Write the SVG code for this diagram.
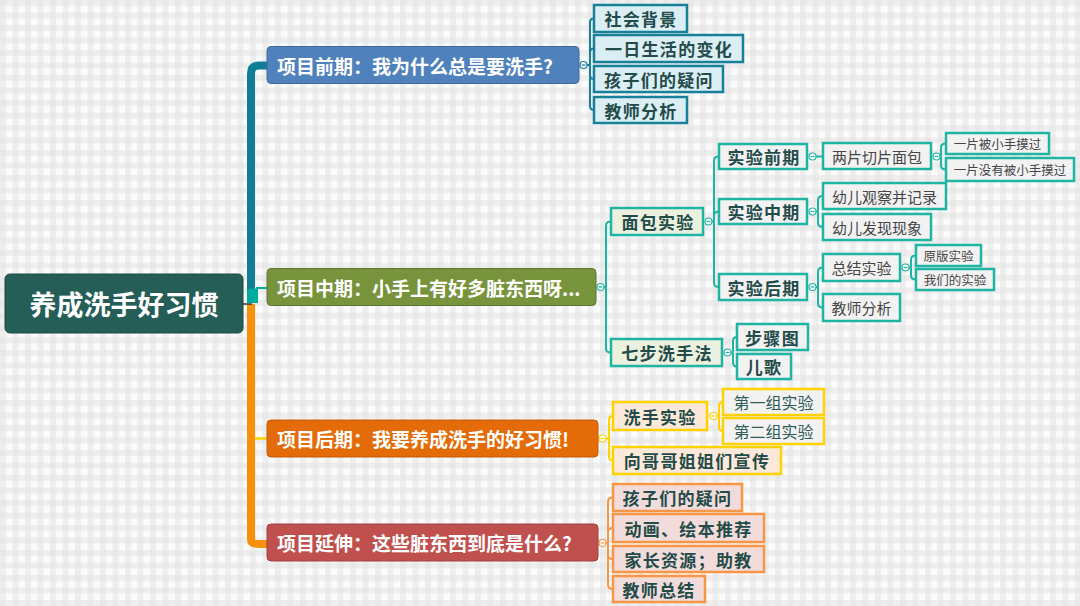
<svg xmlns="http://www.w3.org/2000/svg" width="1080" height="606" viewBox="0 0 1080 606">
<defs>
<pattern id="ging" width="12.5" height="12.5" patternUnits="userSpaceOnUse">
<rect width="12.5" height="12.5" fill="#fbfbfb"/>
<rect y="0" width="12.5" height="6" fill="#e4e4e4" opacity="0.55"/>
<rect x="0" width="6" height="12.5" fill="#e4e4e4" opacity="0.55"/>
</pattern>
<style>
.t1{font-family:"Noto Sans CJK SC","Noto Sans",sans-serif;font-weight:bold;font-size:19px;fill:#fff;dominant-baseline:central}
.t0{font-family:"Noto Sans CJK SC","Noto Sans",sans-serif;font-weight:bold;font-size:27px;fill:#fff;dominant-baseline:central;text-anchor:middle}
.t2{font-family:"Noto Sans CJK SC","Noto Sans",sans-serif;font-weight:bold;font-size:17px;fill:#234b49;letter-spacing:1.3px;dominant-baseline:central;text-anchor:middle}
.t3{font-family:"Noto Sans CJK SC","Noto Sans",sans-serif;font-size:15px;fill:#454545;dominant-baseline:central;text-anchor:middle}
.t4{font-family:"Noto Sans CJK SC","Noto Sans",sans-serif;font-size:12.5px;fill:#454545;dominant-baseline:central;text-anchor:middle}
.t5{font-family:"Noto Sans CJK SC","Noto Sans",sans-serif;font-size:16px;fill:#2f5a58;dominant-baseline:central;text-anchor:middle}
.bb{fill:#daeef3;stroke:#17819a;stroke-width:2.5}
.bg2{fill:#ebf1de;stroke:#1fb5a2;stroke-width:2.5}
.bgy{fill:#f2f2f2;stroke:#1fb5a2;stroke-width:2.5}
.by{fill:#fde9d9;stroke:#ffd200;stroke-width:2.5}
.byl{fill:#f2f2f2;stroke:#ffd200;stroke-width:2.5}
.br{fill:#f2dcdb;stroke:#f79646;stroke-width:2.5}
.cb{fill:none;stroke:#17819a;stroke-width:2}
.cg{fill:none;stroke:#1fb5a2;stroke-width:2}
.cy{fill:none;stroke:#ffd200;stroke-width:2}
.cr{fill:none;stroke:#f79646;stroke-width:2}
.knob{fill:#fff;stroke-width:1.2}
</style>
</defs>
<rect width="1080" height="606" fill="url(#ging)"/>

<g id="connectors">
<!-- main trunk -->
<path d="M251,300 V74 Q251,65.5 259,65.5 H268" fill="none" stroke="#0f7e96" stroke-width="8"/>
<path d="M251,304 V540 Q251,544 259,544 H268" fill="none" stroke="#f7900a" stroke-width="8"/>
<path d="M247,303 V293 Q247,288.5 252,288.5 H258 V303 Z" fill="#00ad9c"/>
<path d="M256,288 H268" fill="none" stroke="#00ad9c" stroke-width="2"/>
<path d="M255,438.5 H268" fill="none" stroke="#ffd200" stroke-width="2.5"/>
<path d="M243,304 H252" fill="none" stroke="#2c3e3c" stroke-width="1.5"/>
<!-- blue branch -->
<path class="cb" d="M587,65 H590"/>
<path class="cb" d="M590,65 V22.5 Q590,18.5 594,18.5"/>
<path class="cb" d="M590,65 V52.5 Q590,48.5 594,48.5"/>
<path class="cb" d="M590,65 V75 Q590,79 594,79"/>
<path class="cb" d="M590,65 V106 Q590,110 594,110"/>
<!-- green branch -->
<path class="cg" d="M604,287 H606"/>
<path class="cg" d="M606,287 V225.5 Q606,221.5 611,221.5"/>
<path class="cg" d="M606,287 V348.5 Q606,352.5 611,352.5"/>
<path class="cg" d="M712,221.5 H714"/>
<path class="cg" d="M714,221.5 V160.5 Q714,156.5 719,156.5"/>
<path class="cg" d="M714,221.5 V215.5 Q714,211.5 719,211.5"/>
<path class="cg" d="M714,221.5 V283 Q714,287 719,287"/>
<path class="cg" d="M816,156.5 H823"/>
<path class="cg" d="M940,156.5 H941"/>
<path class="cg" d="M941,156.5 V147.5 Q941,143.5 946,143.5"/>
<path class="cg" d="M941,156.5 V165.5 Q941,169.5 946,169.5"/>
<path class="cg" d="M816,211.5 H818"/>
<path class="cg" d="M818,211.5 V200 Q818,196 823,196"/>
<path class="cg" d="M818,211.5 V223 Q818,227 823,227"/>
<path class="cg" d="M816,287 H818"/>
<path class="cg" d="M818,287 V271.5 Q818,267.5 823,267.5"/>
<path class="cg" d="M818,287 V303.5 Q818,307.5 823,307.5"/>
<path class="cg" d="M909,267.5 H911"/>
<path class="cg" d="M911,267.5 V259.5 Q911,255.5 916,255.5"/>
<path class="cg" d="M911,267.5 V275.5 Q911,279.5 916,279.5"/>
<path class="cg" d="M731,352.5 H733"/>
<path class="cg" d="M733,352.5 V341 Q733,337 737,337"/>
<path class="cg" d="M733,352.5 V362.5 Q733,366.5 737,366.5"/>
<!-- yellow branch -->
<path class="cy" d="M606,438.5 H609"/>
<path class="cy" d="M609,438.5 V420 Q609,416 613,416"/>
<path class="cy" d="M609,438.5 V456.5 Q609,460.5 613,460.5"/>
<path class="cy" d="M717,416 H719"/>
<path class="cy" d="M719,416 V406 Q719,402 723,402"/>
<path class="cy" d="M719,416 V427 Q719,431 723,431"/>
<!-- red branch -->
<path class="cr" d="M606,543 H608"/>
<path class="cr" d="M608,543 V501.5 Q608,497.5 613,497.5"/>
<path class="cr" d="M608,543 V532 Q608,528 613,528"/>
<path class="cr" d="M608,543 V555 Q608,559 613,559"/>
<path class="cr" d="M608,543 V585 Q608,589 613,589"/>
<!-- knobs -->
<g class="knob" stroke="#17819a"><circle cx="583.5" cy="65" r="3.5"/><path d="M581.5,65 H585.5"/></g>
<g class="knob" stroke="#1fb5a2">
<circle cx="600.5" cy="287" r="3.5"/><path d="M598.5,287 H602.5"/>
<circle cx="708.5" cy="221.5" r="3.5"/><path d="M706.5,221.5 H710.5"/>
<circle cx="812.5" cy="156.5" r="3.5"/><path d="M810.5,156.5 H814.5"/>
<circle cx="936.5" cy="156.5" r="3.5"/><path d="M934.5,156.5 H938.5"/>
<circle cx="812.5" cy="211.5" r="3.5"/><path d="M810.5,211.5 H814.5"/>
<circle cx="812.5" cy="287" r="3.5"/><path d="M810.5,287 H814.5"/>
<circle cx="905.5" cy="267.5" r="3.5"/><path d="M903.5,267.5 H907.5"/>
<circle cx="727.5" cy="352.5" r="3.5"/><path d="M725.5,352.5 H729.5"/>
</g>
<g class="knob" stroke="#ffd200">
<circle cx="602.5" cy="438.5" r="3.5"/><path d="M600.5,438.5 H604.5"/>
<circle cx="713.5" cy="416" r="3.5"/><path d="M711.5,416 H715.5"/>
</g>
<g class="knob" stroke="#f79646"><circle cx="602.5" cy="543" r="3.5"/><path d="M600.5,543 H604.5"/></g>
</g>

<g id="root"><rect x="5" y="274" width="238" height="59" rx="5" fill="#245e57" stroke="#1b4a44" stroke-width="1"/><text class="t0" x="124" y="303.5">养成洗手好习惯</text></g>

<g id="n-qianqi"><rect x="267" y="46.5" width="312" height="37" rx="4" fill="#4f81bd" stroke="#3d6a9f" stroke-width="1"/><text class="t1" x="277" y="65">项目前期：我为什么总是要洗手?</text></g>
<g id="n-zhongqi"><rect x="267" y="268.5" width="329" height="37" rx="4" fill="#77933c" stroke="#5f7830" stroke-width="1"/><text class="t1" x="277" y="287">项目中期：小手上有好多脏东西呀...</text></g>
<g id="n-houqi"><rect x="267" y="420" width="331" height="37" rx="4" fill="#e36c09" stroke="#c25a05" stroke-width="1"/><text class="t1" x="277" y="438.5">项目后期：我要养成洗手的好习惯!</text></g>
<g id="n-yanshen"><rect x="267" y="524" width="331" height="37" rx="4" fill="#c0504d" stroke="#a04040" stroke-width="1"/><text class="t1" x="277" y="542.5">项目延伸：这些脏东西到底是什么?</text></g>

<g id="n-shehui"><rect class="bb" x="594" y="5" width="93" height="27"/><text class="t2" x="641" y="18.5">社会背景</text></g>
<g id="n-yiri"><rect class="bb" x="594" y="35" width="149" height="27"/><text class="t2" x="669" y="48.5">一日生活的变化</text></g>
<g id="n-haizi1"><rect class="bb" x="594" y="66" width="129" height="26"/><text class="t2" x="659" y="79">孩子们的疑问</text></g>
<g id="n-jiaoshi1"><rect class="bb" x="594" y="97" width="93" height="26"/><text class="t2" x="641" y="110">教师分析</text></g>

<g id="n-mianbao"><rect class="bg2" x="611" y="208" width="92" height="27"/><text class="t2" x="658" y="221.5">面包实验</text></g>
<g id="n-qibu"><rect class="bg2" x="611" y="339" width="111" height="27"/><text class="t2" x="667" y="352.5">七步洗手法</text></g>
<g id="n-syqq"><rect class="bgy" x="719" y="144" width="88" height="25"/><text class="t2" x="764" y="156.5">实验前期</text></g>
<g id="n-syzq"><rect class="bgy" x="719" y="199" width="88" height="25"/><text class="t2" x="764" y="211.5">实验中期</text></g>
<g id="n-syhq"><rect class="bgy" x="719" y="274" width="88" height="26"/><text class="t2" x="764" y="287">实验后期</text></g>
<g id="n-liangpian"><rect class="bgy" x="823" y="143" width="108" height="26"/><text class="t3" x="877" y="156">两片切片面包</text></g>
<g id="n-mo"><rect class="bgy" x="946" y="133" width="103" height="21"/><text class="t4" x="997.5" y="143.5">一片被小手摸过</text></g>
<g id="n-meimo"><rect class="bgy" x="946" y="158" width="128" height="23"/><text class="t4" x="1010" y="169.5">一片没有被小手摸过</text></g>
<g id="n-guancha"><rect class="bgy" x="823" y="183" width="123" height="26"/><text class="t3" x="884.5" y="196">幼儿观察并记录</text></g>
<g id="n-faxian"><rect class="bgy" x="823" y="214" width="108" height="26"/><text class="t3" x="877" y="227">幼儿发现现象</text></g>
<g id="n-zongjie"><rect class="bgy" x="823" y="254" width="77" height="27"/><text class="t3" x="861.5" y="267.5">总结实验</text></g>
<g id="n-jiaoshi2"><rect class="bgy" x="823" y="294" width="77" height="27"/><text class="t3" x="861.5" y="307.5">教师分析</text></g>
<g id="n-yuanban"><rect class="bgy" x="916" y="245" width="65" height="21"/><text class="t4" x="948.5" y="255.5">原版实验</text></g>
<g id="n-women"><rect class="bgy" x="916" y="269" width="78" height="21"/><text class="t4" x="955" y="279.5">我们的实验</text></g>
<g id="n-buzhou"><rect class="bgy" x="737" y="324" width="71" height="26"/><text class="t2" x="772.5" y="337">步骤图</text></g>
<g id="n-erge"><rect class="bgy" x="737" y="354" width="54" height="25"/><text class="t2" x="764" y="366.5">儿歌</text></g>

<g id="n-xishou"><rect class="by" x="613" y="402" width="94" height="28"/><text class="t2" x="660" y="416">洗手实验</text></g>
<g id="n-xuanchuan"><rect class="by" x="613" y="447" width="168" height="27"/><text class="t2" x="697" y="460.5">向哥哥姐姐们宣传</text></g>
<g id="n-diyi"><rect class="byl" x="723" y="389" width="101" height="26"/><text class="t5" x="773.5" y="402">第一组实验</text></g>
<g id="n-dier"><rect class="byl" x="723" y="418" width="101" height="26"/><text class="t5" x="773.5" y="431">第二组实验</text></g>

<g id="n-haizi2"><rect class="br" x="613" y="484" width="129" height="27"/><text class="t2" x="677.5" y="497.5">孩子们的疑问</text></g>
<g id="n-donghua"><rect class="br" x="613" y="514" width="151" height="28"/><text class="t2" x="688.5" y="528">动画、绘本推荐</text></g>
<g id="n-jiazhang"><rect class="br" x="613" y="546" width="151" height="26"/><text class="t2" x="688.5" y="559">家长资源；助教</text></g>
<g id="n-zongjie2"><rect class="br" x="613" y="576" width="92" height="26"/><text class="t2" x="659" y="589">教师总结</text></g>
</svg>
